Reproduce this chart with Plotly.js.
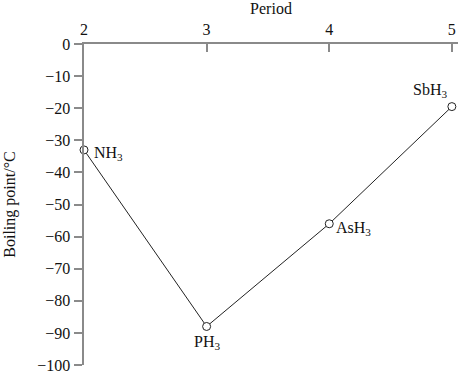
<!DOCTYPE html>
<html><head><meta charset="utf-8">
<script src="https://cdn.plot.ly/plotly-3.0.1.min.js"></script>
<style>body{margin:0;background:#fff}#c{width:458px;height:373px}</style>
</head><body><div id="c"></div>
<script>
const periods = [2, 3, 4, 5];
const boilingPoints = [-33, -88, -56, -19.5];
const compounds = ['NH<sub>3</sub>', 'PH<sub>3</sub>', 'AsH<sub>3</sub>', 'SbH<sub>3</sub>'];
const yTicks = [0, -10, -20, -30, -40, -50, -60, -70, -80, -90, -100];

const font = {family: 'Liberation Serif, Times New Roman, serif', size: 16, color: '#111'};
const labelPos = [
  {xanchor: 'left', yanchor: 'middle', xshift: 8, yshift: -4},
  {xanchor: 'center', yanchor: 'top', xshift: 0, yshift: -5},
  {xanchor: 'left', yanchor: 'middle', xshift: 5, yshift: -5},
  {xanchor: 'right', yanchor: 'bottom', xshift: -3, yshift: 5}
];
const annotations = periods.map((p, i) => Object.assign({
  x: p, y: boilingPoints[i], text: compounds[i], showarrow: false, font: font
}, labelPos[i]));

Plotly.newPlot('c', [{
  x: periods, y: boilingPoints, mode: 'lines+markers', type: 'scatter',
  line: {color: '#222', width: 1},
  marker: {symbol: 'circle', size: 8, color: '#fff', line: {color: '#222', width: 1}},
  cliponaxis: false, hoverinfo: 'none'
}], {
  width: 458, height: 373,
  margin: {l: 84, r: 0, t: 44, b: 8},
  paper_bgcolor: '#fff', plot_bgcolor: '#fff',
  showlegend: false,
  font: font,
  xaxis: {
    side: 'top', range: [2, 5.05], tickvals: periods, ticktext: periods.map(String),
    showgrid: false, zeroline: false, showline: true, linecolor: '#8a8a8a', linewidth: 2.5,
    ticks: 'inside', ticklen: 8, tickwidth: 2, tickcolor: '#8a8a8a',
    tickfont: font, ticklabeloverflow: 'allow',
    title: {text: 'Period', font: font, standoff: 4}
  },
  yaxis: {
    range: [-100, 0], tickvals: yTicks,
    showgrid: false, zeroline: false, showline: true, linecolor: '#8a8a8a', linewidth: 2.5,
    ticks: 'outside', ticklen: 8, tickwidth: 2, tickcolor: '#8a8a8a',
    tickfont: font, ticklabeloverflow: 'allow',
    title: {text: 'Boiling point/°C', font: font, standoff: 18}
  },
  annotations: annotations
}, {displayModeBar: false, staticPlot: true});
</script></body></html>
